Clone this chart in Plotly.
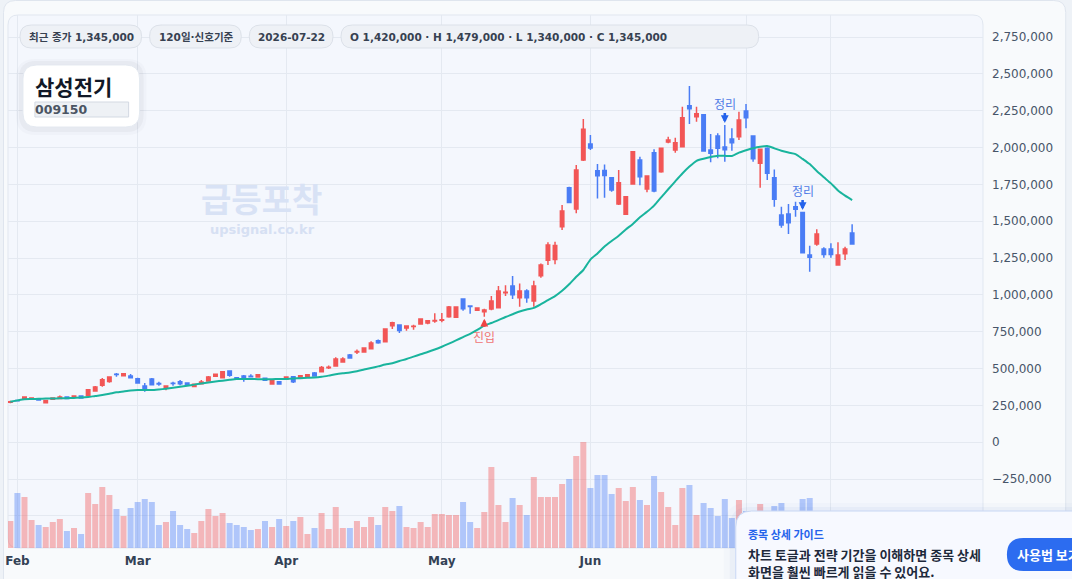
import plotly.graph_objects as go
import pandas as pd

# ---------------- data ----------------
HOLIDAYS = ["2026-02-16", "2026-02-17", "2026-02-18", "2026-03-02"]
dates = [d.strftime("%Y-%m-%d") for d in pd.bdate_range("2026-01-30", "2026-07-22")
         if d.strftime("%Y-%m-%d") not in HOLIDAYS]

UNIT = 1000  # prices below are in thousands of won

open_k = [271, 284, 291, 293, 290, 268, 291, 296, 307, 311,
          314, 318, 348, 386, 413, 462, 452, 449, 431, 381,
          429, 399, 370, 401, 411, 402, 379, 397, 415, 447,
          438, 483, 438, 449, 448, 443, 434, 395, 411, 427,
          445, 436, 443, 470, 479, 506, 517, 544, 592, 612,
          612, 635, 689, 682, 791, 796, 775, 785, 802, 809,
          823, 828, 852, 848, 972, 924, 895, 886, 904, 913,
          1015, 1060, 981, 1026, 958, 1130, 1235, 1240, 1463, 1728,
          1583, 1916, 2024, 1843, 1845, 1796, 1617, 1547, 1753, 1916,
          1719, 1965, 1836, 2038, 1983, 2006, 2284, 2210, 2223, 1983,
          2078, 2004, 2058, 2074, 2248, 2078, 1893, 1995, 1796, 1542,
          1549, 1599, 1560, 1271, 1345, 1311, 1311, 1203, 1280, 1420]

high_k = [282, 288, 310, 302, 293, 286, 302, 318, 309, 318,
          316, 361, 381, 436, 445, 470, 468, 463, 438, 402,
          436, 411, 383, 411, 422, 406, 397, 422, 449, 465,
          483, 484, 440, 456, 461, 461, 436, 429, 413, 445,
          447, 454, 461, 476, 517, 520, 576, 576, 599, 630,
          644, 685, 698, 773, 818, 798, 790, 798, 841, 830,
          875, 877, 925, 922, 974, 929, 913, 906, 992, 1060,
          1065, 1128, 1078, 1038, 1096, 1214, 1357, 1360, 1610, 1735,
          1882, 2194, 2085, 1888, 1885, 1798, 1848, 1668, 1977, 1938,
          1808, 1988, 1996, 2074, 2067, 2278, 2418, 2278, 2224, 2092,
          2097, 2153, 2131, 2244, 2296, 2079, 1989, 2002, 1852, 1599,
          1617, 1633, 1562, 1334, 1445, 1323, 1350, 1357, 1327, 1479]

low_k = [264, 277, 289, 291, 284, 266, 289, 294, 294, 305,
         298, 315, 343, 377, 404, 445, 450, 436, 397, 343,
         386, 384, 352, 384, 386, 383, 377, 396, 411, 445,
         434, 445, 425, 411, 440, 440, 418, 390, 393, 425,
         402, 434, 440, 445, 476, 497, 513, 542, 567, 599,
         608, 633, 669, 678, 768, 741, 757, 764, 800, 800,
         811, 814, 845, 843, 893, 872, 893, 852, 895, 911,
         992, 972, 920, 947, 920, 1117, 1203, 1208, 1440, 1626,
         1554, 1909, 1983, 1655, 1660, 1701, 1610, 1542, 1748, 1744,
         1696, 1696, 1830, 2029, 1965, 2005, 2160, 2176, 1972, 1900,
         1927, 1904, 1979, 2051, 2131, 1904, 1728, 1780, 1599, 1456,
         1413, 1531, 1282, 1158, 1334, 1253, 1253, 1202, 1237, 1340]

close_k = [274, 281, 307, 300, 287, 284, 300, 307, 296, 314,
           300, 357, 375, 424, 443, 459, 465, 438, 402, 354,
           390, 396, 381, 398, 397, 386, 393, 409, 443, 461,
           479, 454, 427, 429, 445, 458, 420, 418, 395, 443,
           411, 452, 458, 449, 508, 509, 565, 565, 572, 615,
           639, 673, 676, 768, 811, 759, 789, 788, 836, 825,
           826, 831, 918, 918, 906, 921, 911, 897, 958, 1026,
           1018, 1001, 1026, 981, 1060, 1203, 1339, 1335, 1569, 1628,
           1848, 2124, 1997, 1809, 1810, 1712, 1762, 1667, 1972, 1802,
           1807, 1705, 1995, 2051, 2033, 2203, 2264, 2230, 1977, 1961,
           1995, 1986, 2033, 2187, 2203, 1925, 1988, 1825, 1649, 1474,
           1490, 1581, 1286, 1255, 1413, 1275, 1275, 1271, 1311, 1345]

ma_k = [275, 284, 292, 293, 295, 296, 297, 298, 299, 301,
        303, 307, 314, 320, 329, 339, 345, 351, 354, 354,
        354, 358, 363, 369, 376, 383, 391, 398, 405, 412,
        418, 424, 429, 429, 429, 428, 427, 428, 429, 430,
        432, 435, 437, 439, 444, 452, 461, 468, 474, 482,
        493, 504, 515, 527, 536, 551, 565, 581, 597, 612,
        629, 648, 669, 691, 714, 736, 762, 792, 809, 829,
        850, 869, 887, 901, 912, 937, 965, 992, 1028, 1072,
        1123, 1169, 1240, 1281, 1328, 1366, 1402, 1444, 1482, 1527,
        1564, 1606, 1662, 1717, 1771, 1824, 1871, 1910, 1924, 1936,
        1945, 1944, 1943, 1966, 1982, 1996, 2006, 2011, 1995, 1978,
        1966, 1956, 1923, 1888, 1841, 1799, 1757, 1709, 1674, 1644]

# volume in thousand shares
volume_k = [405, 825, 765, 420, 345, 315, 390, 435, 255, 300,
            210, 825, 660, 915, 795, 585, 480, 600, 690, 735,
            690, 345, 390, 555, 345, 285, 225, 405, 585, 480,
            525, 375, 345, 315, 270, 285, 405, 315, 435, 330,
            405, 465, 210, 300, 525, 285, 615, 300, 300, 405,
            315, 465, 345, 615, 555, 630, 315, 300, 390, 315,
            510, 510, 495, 495, 690, 390, 300, 540, 1215, 645,
            390, 750, 645, 495, 1065, 765, 765, 765, 960, 1035,
            1380, 1590, 900, 1095, 1095, 810, 900, 705, 915, 720,
            645, 1080, 840, 615, 345, 900, 945, 495, 675, 600,
            480, 735, 450, 720, 555, 450, 660, 480, 630, 675,
            450, 420, 735, 750, 525, 450, 375, 495, 420, 540]

MONTH_TEXT = {"02": "Feb", "03": "Mar", "04": "Apr", "05": "May", "06": "Jun", "07": "Jul"}
EXTRA_GRID_DATES = ["2026-07-17"]

ENTRY_IDX = [67]
EXIT_IDX = [101, 112]

STOCK_NAME = "삼성전기"
STOCK_CODE = "009150"
CHIPS = ["최근 종가 1,345,000", "120일·신호기준", "2026-07-22",
         "O 1,420,000 · H 1,479,000 · L 1,340,000 · C 1,345,000"]
GUIDE_TITLE = "종목 상세 가이드"
GUIDE_LINES = ["차트 토글과 전략 기간을 이해하면 종목 상세", "화면을 훨씬 빠르게 읽을 수 있어요."]
GUIDE_BUTTON = "사용법 보기"

# ---------------- derived ----------------
opens = [v * UNIT for v in open_k]
highs = [v * UNIT for v in high_k]
lows = [v * UNIT for v in low_k]
closes = [v * UNIT for v in close_k]
ma = [v * UNIT for v in ma_k]

tickvals, ticktext, seen = [], [], set()
for d in dates:
    m = d[5:7]
    if m in MONTH_TEXT and m not in seen:
        seen.add(m)
        tickvals.append(d)
        ticktext.append(MONTH_TEXT[m])
for d in EXTRA_GRID_DATES:
    tickvals.append(d)
    ticktext.append("")

RED = "#f25656"
BLUE = "#4a7df5"
RED_V = "rgba(242,86,86,0.40)"
BLUE_V = "rgba(74,125,245,0.40)"
GRID = "#e4e9f1"
FONT = "DejaVu Sans, Noto Sans CJK KR, sans-serif"
KFONT = "Noto Sans CJK KR, DejaVu Sans, sans-serif"

vol_colors = [RED_V if c >= o else BLUE_V for o, c in zip(opens, closes)]

# ---------------- layout geometry (pixels) ----------------
W, H = 1072, 579
PL, PT, PR, PB = 5, 15, 983, 548


def X(px):
    return (px - PL) / (PR - PL)


def Y(py):
    return (PB - py) / (PB - PT)


def rrect(x0, y0, x1, y1, r):
    return (f"M {X(x0 + r)},{Y(y0)} L {X(x1 - r)},{Y(y0)} Q {X(x1)},{Y(y0)} {X(x1)},{Y(y0 + r)} "
            f"L {X(x1)},{Y(y1 - r)} Q {X(x1)},{Y(y1)} {X(x1 - r)},{Y(y1)} "
            f"L {X(x0 + r)},{Y(y1)} Q {X(x0)},{Y(y1)} {X(x0)},{Y(y1 - r)} "
            f"L {X(x0)},{Y(y0 + r)} Q {X(x0)},{Y(y0)} {X(x0 + r)},{Y(y0)} Z")


shapes = []


def add_rr(x0, y0, x1, y1, r, fill, line="rgba(0,0,0,0)", lw=1, layer="above"):
    shapes.append(dict(type="path", path=rrect(x0, y0, x1, y1, r), xref="paper", yref="paper",
                       fillcolor=fill, line=dict(color=line, width=lw), layer=layer))


# background card + plot panel
add_rr(0.5, 0.5, 1066, 700, 12, "#f8fafc", "#dfe5ee", 1, "below")
add_rr(5, 15, 983, 548, 10, "#f4f7fd", "#e1e7f0", 1, "below")

# chips
chip_boxes = [(17, 139), (147, 239), (247, 331), (339, 758)]
for (cx0, cx1) in chip_boxes:
    add_rr(cx0, 25, cx1, 48, 11.5, "#eef1f6", "#dce1e9", 1)

# name card
add_rr(13, 59, 144, 135, 19, "rgba(15,23,42,0.02)")
add_rr(16, 61, 141, 132, 17, "rgba(15,23,42,0.035)")
add_rr(20, 65, 137, 127, 14, "#ffffff", "rgba(226,232,240,0.9)", 1)
shapes.append(dict(type="rect", xref="paper", yref="paper", x0=X(32), x1=X(126), y0=Y(117), y1=Y(102),
                   fillcolor="#eef1f5", line=dict(color="#d3d9e2", width=1), layer="above"))

# guide box
add_rr(723, 503, 1120, 700, 24, "rgba(30,64,175,0.025)")
add_rr(729, 507, 1120, 700, 20, "rgba(30,64,175,0.04)")
add_rr(735, 511, 1120, 700, 16, "#f7f9ff", "#c8d7f4", 1)
add_rr(1007, 538, 1130, 571, 16.5, "#2c6cf0")

annotations = []
TX = 3  # annotation inner padding in px


def txt(x, y, text, size, color, weight="bold", xanchor="left", family=FONT, pad=1):
    xx = x - TX if xanchor == "left" else x
    annotations.append(dict(x=X(xx), y=Y(y), xref="paper", yref="paper", text=text, showarrow=False,
                            xanchor=xanchor, yanchor="middle", align="left", borderpad=pad,
                            font=dict(family=family, size=size, color=color, weight=weight)))


for (cx0, cx1), t in zip(chip_boxes, CHIPS):
    txt(cx0 + 10, 37, t, 10.5, "#374151")

txt(33, 86, STOCK_NAME, 21, "#111827", family=KFONT)
txt(33.5, 109.5, STOCK_CODE, 12.5, "#4b5563")

txt(259, 198, "급등포착", 33, "#d8e2f5", xanchor="center", family=KFONT)
txt(260, 229, "upsignal.co.kr", 13, "#d6e0f3", xanchor="center")

txt(749, 534, GUIDE_TITLE, 11, "#2563eb", family=KFONT, pad=0)
txt(749, 562.5, "<br>".join(GUIDE_LINES), 13, "#1e293b", family=KFONT, pad=0)
txt(1018, 554.5, GUIDE_BUTTON, 13, "#ffffff", family=KFONT)

for i in ENTRY_IDX:
    annotations.append(dict(x=dates[i], y=lows[i], xref="x", yref="y", text="진입",
                            showarrow=True, ax=0, ay=20, arrowhead=2, arrowsize=0.6, arrowwidth=2.6,
                            arrowcolor="#ef4444", standoff=2,
                            font=dict(family=KFONT, size=12, color="#f07474")))
for i in EXIT_IDX:
    annotations.append(dict(x=dates[i], y=highs[i], xref="x", yref="y", text="정리",
                            showarrow=True, ax=0, ay=-22, arrowhead=2, arrowsize=0.6, arrowwidth=2.6,
                            arrowcolor="#2563eb", standoff=2,
                            font=dict(family=KFONT, size=12, color="#4f7be6")))

# ---------------- figure ----------------
fig = go.Figure()
fig.add_trace(go.Bar(x=dates, y=volume_k, marker=dict(color=vol_colors, line=dict(width=0)),
                     yaxis="y2", showlegend=False, hoverinfo="skip"))
fig.add_trace(go.Scatter(x=dates, y=ma, mode="lines",
                         line=dict(color="#19b49d", width=2, shape="spline", smoothing=0.6),
                         showlegend=False, hoverinfo="skip"))
fig.add_trace(go.Candlestick(x=dates, open=opens, high=highs, low=lows, close=closes,
                             increasing=dict(line=dict(color=RED, width=1.5), fillcolor=RED),
                             decreasing=dict(line=dict(color=BLUE, width=1.5), fillcolor=BLUE),
                             whiskerwidth=0, showlegend=False))

fig.update_layout(
    width=W, height=H, autosize=False,
    margin=dict(l=PL, r=W - PR, t=PT, b=H - PB),
    paper_bgcolor="#eef2f7", plot_bgcolor="rgba(0,0,0,0)",
    font=dict(family=FONT),
    bargap=0.15, showlegend=False, hovermode=False,
    xaxis=dict(type="category", range=[-0.33, 137.5], rangeslider=dict(visible=False),
               tickmode="array", tickvals=tickvals, ticktext=ticktext,
               showgrid=True, gridcolor=GRID, gridwidth=1, zeroline=False, showline=False, ticks="",
               tickfont=dict(family=FONT, size=12, color="#334155", weight="bold"),
               ticklabelstandoff=4),
    yaxis=dict(side="right", range=[-718000, 2900000], tick0=0, dtick=250000, tickformat=",",
               showgrid=True, gridcolor=GRID, gridwidth=1, zeroline=False, showline=False, ticks="",
               tickfont=dict(family=FONT, size=12, color="#475569"), ticklabelstandoff=8),
    yaxis2=dict(overlaying="y", range=[0, 7995], visible=False),
    shapes=shapes, annotations=annotations,
)

fig.write_html("out.html")
